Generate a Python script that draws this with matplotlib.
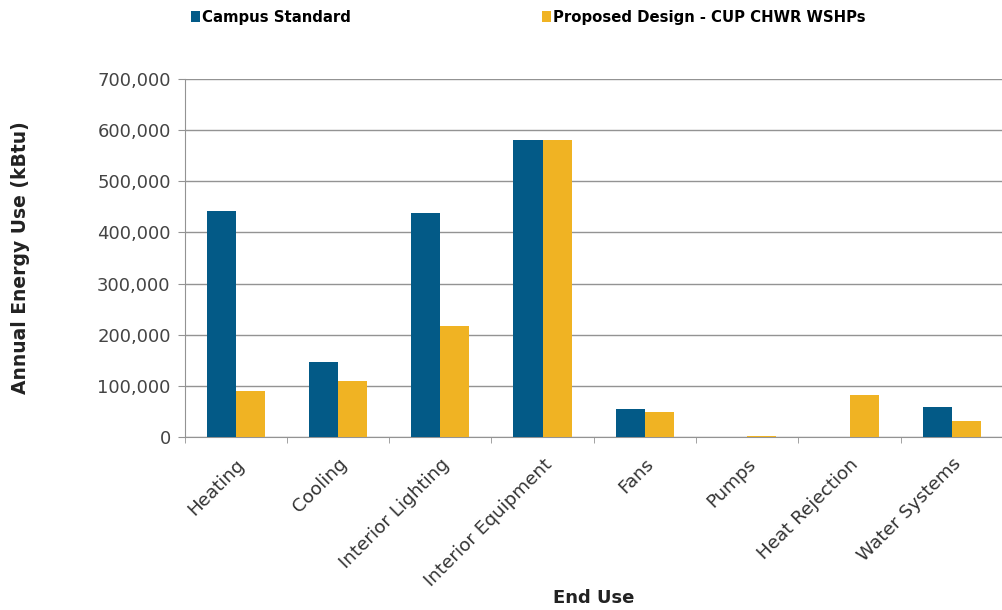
import numpy as np
import matplotlib.pyplot as plt
from matplotlib.ticker import FuncFormatter, FixedLocator

categories = ["Heating", "Cooling", "Interior Lighting", "Interior Equipment",
              "Fans", "Pumps", "Heat Rejection", "Water Systems"]
campus = [442000, 147000, 438000, 581000, 55000, 500, 0, 59000]
proposed = [90000, 110000, 217000, 581000, 49000, 1000, 82000, 31000]
series_names = ["Campus Standard", "Proposed Design - CUP CHWR WSHPs"]

blue = "#035a87"
gold = "#f0b323"

fig = plt.figure(figsize=(10.03, 6.1), dpi=100)
ax = fig.add_axes([0.184, 0.2836, 0.816, 0.587])

x = np.arange(len(categories))
w = 0.285
b1 = ax.bar(x - w / 2, campus, w, color=blue, zorder=3)
b2 = ax.bar(x + w / 2, proposed, w, color=gold, zorder=3)

ax.set_xlim(-0.5, len(categories) - 0.5)
ax.set_ylim(0, 700000)
ax.set_yticks(np.arange(0, 700001, 100000))
ax.yaxis.set_major_formatter(FuncFormatter(lambda v, p: f"{int(v):,}"))
ax.grid(axis="y", color="#939393", linewidth=1.0, zorder=0)

for s in ["top", "right"]:
    ax.spines[s].set_visible(False)
for s in ["left", "bottom"]:
    ax.spines[s].set_color("#939393")

ax.set_xticks(x)
ax.set_xticklabels(categories, rotation=45, ha="right", rotation_mode="anchor",
                   fontsize=13.2, color="#333333")
ax.tick_params(axis="x", length=0, pad=13)
ax.xaxis.set_minor_locator(FixedLocator(np.arange(-0.5, len(categories), 1.0)))
ax.tick_params(axis="x", which="minor", length=4, color="#939393")
ax.tick_params(axis="y", length=5, color="#939393", labelsize=13, labelcolor="#444444", pad=5)

ax.set_ylabel("Annual Energy Use (kBtu)", fontsize=13.5, fontweight="bold",
              color="#222222", va="center")
ax.yaxis.set_label_coords(-0.2, 0.5)
ax.set_xlabel("End Use", fontsize=13, fontweight="bold", color="#222222", va="center")
ax.xaxis.set_label_coords(0.5, -0.45)

fig.legend([b1, b2], series_names, loc="upper left", bbox_to_anchor=(0.1775, 1.006),
           ncol=2, frameon=False, handlelength=0.55, handleheight=0.7,
           handletextpad=0.15, columnspacing=12.9,
           prop={"weight": "bold", "size": 10.7})

fig.savefig("out.png", dpi=100)
